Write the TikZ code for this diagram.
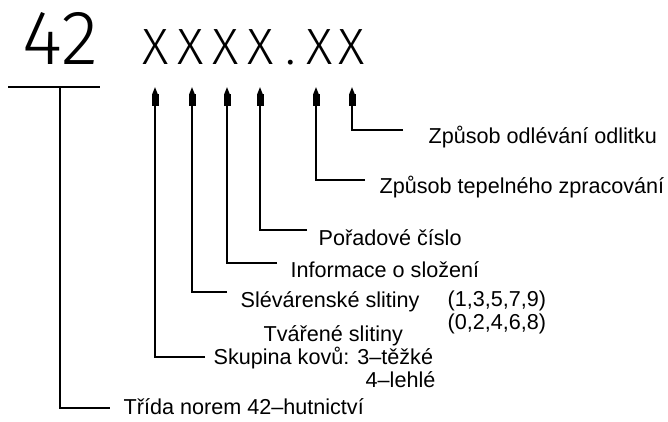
\documentclass[tikz,border=0pt]{standalone}
\usepackage{fontspec}
\setmainfont{Liberation Sans}
\newfontfamily\thinfont{Fira Sans}[UprightFont={* Light}]
\usetikzlibrary{arrows.meta}
\begin{document}
\begin{tikzpicture}[x=1pt,y=-1pt,line width=1.4pt,
  lbl/.style={anchor=base west,inner sep=0pt,font=\fontsize{21.6}{22}\selectfont},
  arr/.style={-{Rectangle[length=12pt,width=7pt]Triangle[length=7pt,width=5pt]}}]
\useasboundingbox (0,0) rectangle (668,422);
% big code
\node[anchor=base west,inner sep=0pt,font=\thinfont\fontsize{77}{77}\selectfont] (n42) at (22,65) {42};
\node[anchor=base west,inner sep=0pt,font=\thinfont\fontsize{51}{51}\selectfont] (code) at (137.5,65)
  {\makebox[35pt]{X}\makebox[35pt]{X}\makebox[35pt]{X}\makebox[35pt]{X}\makebox[25pt]{.}\makebox[32pt]{X}\makebox[32pt]{X}};
% arrow tips
\coordinate (a1) at (155,87);
\coordinate (a2) at (192,87);
\coordinate (a3) at (227,87);
\coordinate (a4) at (260,87);
\coordinate (a5) at (316,87);
\coordinate (a6) at (352,87);
% free ends
\coordinate (e6) at (403,130);
\coordinate (e5) at (365,180);
\coordinate (e4) at (307,230);
\coordinate (e3) at (277,263);
\coordinate (e2) at (227,292);
\coordinate (e1) at (205,357);
\coordinate (e0) at (110,408);
\coordinate (tl) at (8,87);
\coordinate (tr) at (100,87);
\coordinate (tm) at (60,87);
% labels
\node[lbl] (t6) at (428,143) {Způsob odlévání odlitku};
\node[lbl] (t5) at (379,193) {Způsob tepelného zpracování};
\node[lbl] (t4) at (318,245) {Pořadové číslo};
\node[lbl] (t3) at (290,277) {Informace o složení};
\node[lbl] (t2) at (240,307) {Slévárenské slitiny};
\node[lbl] (t2b) at (447,306) {(1,3,5,7,9)};
\node[lbl] (t2c) at (263,341) {Tvářené slitiny};
\node[lbl] (t2d) at (447,329) {(0,2,4,6,8)};
\node[lbl] (t1) at (213,364) {Skupina kovů: 3–těžké};
\node[lbl] (t1b) at (365,387) {4–lehlé};
\node[lbl] (t0) at (123,414) {Třída norem 42–hutnictví};
% connectors
\draw[arr] (e6) -| (a6);
\draw[arr] (e5) -| (a5);
\draw[arr] (e4) -| (a4);
\draw[arr] (e3) -| (a3);
\draw[arr] (e2) -| (a2);
\draw[arr] (e1) -| (a1);
\draw (tl) -- (tr);
\draw (tm) |- (e0);
\end{tikzpicture}
\end{document}
